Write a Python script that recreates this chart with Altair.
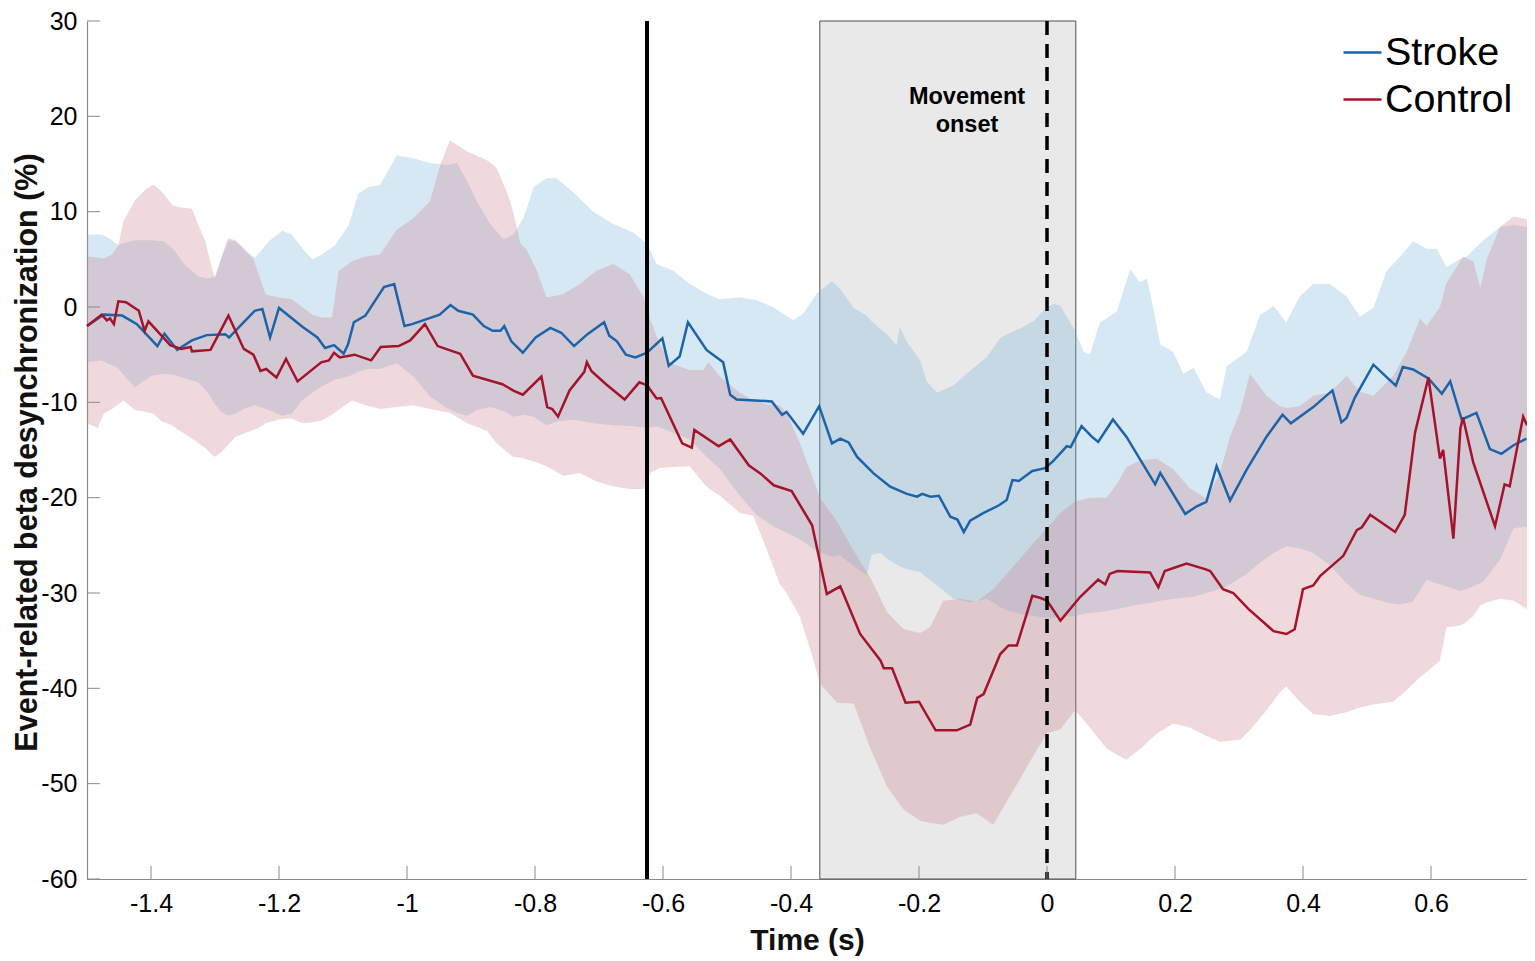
import altair as alt
import pandas as pd

# ---------------- data ----------------
series_names = ["Stroke", "Control"]

stroke_t = [-1.500, -1.474, -1.445, -1.422, -1.390, -1.379, -1.359, -1.336, -1.313, -1.284,
            -1.278, -1.258, -1.238, -1.226, -1.214, -1.200, -1.163, -1.140, -1.128, -1.114,
            -1.099, -1.092, -1.083, -1.065, -1.036, -1.020, -1.004, -0.992, -0.949, -0.932,
            -0.920, -0.897, -0.880, -0.866, -0.854, -0.848, -0.837, -0.819, -0.799, -0.776,
            -0.759, -0.739, -0.718, -0.692, -0.684, -0.672, -0.658, -0.643, -0.625, -0.601,
            -0.591, -0.574, -0.561, -0.532, -0.506, -0.495, -0.485, -0.430, -0.414, -0.407,
            -0.381, -0.356, -0.336, -0.323, -0.310, -0.297, -0.271, -0.245, -0.219, -0.203,
            -0.195, -0.182, -0.169, -0.151, -0.140, -0.130, -0.120, -0.099, -0.075, -0.063,
            -0.054, -0.044, -0.023, -0.003, 0.010, 0.031, 0.037, 0.054, 0.070, 0.080,
            0.103, 0.124, 0.169, 0.177, 0.216, 0.234, 0.249, 0.265, 0.286, 0.312,
            0.343, 0.368, 0.381, 0.416, 0.446, 0.460, 0.468, 0.481, 0.510, 0.536,
            0.545, 0.556, 0.572, 0.596, 0.617, 0.630, 0.648, 0.671, 0.692, 0.710,
            0.729, 0.749]
stroke_v = [-2.0, -0.8, -0.9, -1.8, -4.1, -2.8, -4.5, -3.5, -2.95, -2.85,
            -3.2, -1.8, -0.4, -0.2, -3.2, -0.1, -2.1, -3.2, -4.3, -4.0,
            -4.9, -3.9, -1.6, -0.9, 2.1, 2.4, -2.0, -1.8, -0.8, 0.2,
            -0.4, -0.8, -2.0, -2.5, -2.5, -2.0, -3.6, -4.8, -3.2, -2.2,
            -2.7, -4.1, -2.85, -1.6, -3.0, -3.6, -5.0, -5.3, -4.8, -3.3,
            -6.15, -5.2, -1.6, -4.5, -5.8, -9.2, -9.7, -9.9, -11.3, -11.0,
            -13.3, -10.4, -14.3, -13.8, -14.2, -15.7, -17.45, -18.85, -19.6, -19.9,
            -19.6, -19.9, -19.8, -22.0, -22.3, -23.6, -22.4, -21.6, -20.8, -20.25,
            -18.15, -18.25, -17.2, -16.9, -16.15, -14.6, -14.7, -12.5, -13.6, -14.15,
            -11.8, -13.6, -18.6, -17.4, -21.7, -20.9, -20.45, -16.7, -20.3, -17.05,
            -13.6, -11.3, -12.2, -10.5, -8.75, -12.1, -11.65, -9.5, -6.05, -7.7,
            -8.25, -6.3, -6.55, -7.5, -9.1, -7.8, -11.8, -11.1, -14.9, -15.4,
            -14.5, -13.8]

control_t = [-1.500, -1.477, -1.469, -1.464, -1.458, -1.451, -1.439, -1.419, -1.410, -1.404,
             -1.370, -1.353, -1.338, -1.336, -1.307, -1.279, -1.255, -1.240, -1.229, -1.220,
             -1.204, -1.189, -1.171, -1.134, -1.122, -1.114, -1.105, -1.082, -1.056, -1.041,
             -1.013, -0.995, -0.972, -0.952, -0.917, -0.897, -0.851, -0.833, -0.819, -0.790,
             -0.781, -0.773, -0.764, -0.746, -0.723, -0.719, -0.712, -0.689, -0.660, -0.637,
             -0.625, -0.610, -0.603, -0.570, -0.555, -0.551, -0.513, -0.495, -0.466, -0.448,
             -0.427, -0.399, -0.367, -0.344, -0.323, -0.292, -0.260, -0.255, -0.242, -0.221,
             -0.200, -0.174, -0.141, -0.120, -0.109, -0.099, -0.073, -0.060, -0.047, -0.023,
             -0.011, 0.000, 0.021, 0.052, 0.080, 0.091, 0.098, 0.110, 0.161, 0.174,
             0.184, 0.218, 0.247, 0.255, 0.275, 0.291, 0.315, 0.354, 0.374, 0.387,
             0.400, 0.416, 0.427, 0.463, 0.484, 0.492, 0.505, 0.544, 0.559, 0.575,
             0.596, 0.614, 0.619, 0.635, 0.646, 0.650, 0.666, 0.700, 0.715, 0.723,
             0.744, 0.750]
control_v = [-2.0, -0.8, -1.4, -1.2, -1.8, 0.6, 0.5, -0.4, -2.5, -1.5,
             -4.0, -4.4, -4.2, -4.65, -4.5, -0.9, -4.4, -5.0, -6.7, -6.5,
             -7.4, -5.45, -7.8, -5.8, -5.6, -4.8, -5.3, -5.0, -5.6, -4.2,
             -4.1, -3.5, -1.8, -4.1, -4.9, -7.2, -8.1, -8.8, -9.2, -7.3,
             -10.5, -10.7, -11.5, -8.75, -6.8, -5.8, -6.7, -8.1, -9.7, -7.9,
             -8.2, -9.6, -9.55, -14.3, -14.75, -12.9, -14.6, -13.9, -16.6, -17.45,
             -18.7, -19.3, -22.9, -30.1, -29.3, -34.3, -37.1, -37.9, -37.9, -41.5,
             -41.4, -44.4, -44.4, -43.8, -41.0, -40.6, -36.4, -35.5, -35.5, -30.3,
             -30.5, -30.8, -32.9, -30.4, -28.6, -29.1, -28.0, -27.7, -27.85, -29.4,
             -27.7, -26.9, -27.5, -27.7, -29.6, -30.0, -31.7, -34.0, -34.3, -33.8,
             -29.6, -29.2, -28.2, -26.1, -23.4, -23.1, -21.8, -23.6, -21.8, -13.2,
             -7.4, -15.9, -15.0, -24.3, -12.7, -11.6, -16.3, -23.0, -18.6, -18.8,
             -11.5, -12.4]

stroke_band_t = [-1.500, -1.477, -1.465, -1.452, -1.438, -1.425, -1.410, -1.399, -1.380, -1.364,
                 -1.347, -1.326, -1.310, -1.300, -1.290, -1.279, -1.268, -1.252, -1.237, -1.216,
                 -1.195, -1.180, -1.164, -1.148, -1.133, -1.112, -1.091, -1.076, -1.060, -1.042,
                 -1.016, -0.990, -0.964, -0.938, -0.922, -0.906, -0.891, -0.870, -0.849, -0.834,
                 -0.818, -0.802, -0.782, -0.766, -0.740, -0.709, -0.678, -0.646, -0.625, -0.610,
                 -0.584, -0.558, -0.532, -0.511, -0.480, -0.454, -0.428, -0.397, -0.381, -0.360,
                 -0.336, -0.323, -0.302, -0.282, -0.274, -0.260, -0.250, -0.235, -0.230, -0.219,
                 -0.198, -0.188, -0.172, -0.146, -0.120, -0.094, -0.073, -0.063, -0.042, -0.021,
                 0.000, 0.010, 0.021, 0.031, 0.044, 0.057, 0.067, 0.083, 0.093, 0.109,
                 0.130, 0.145, 0.156, 0.166, 0.177, 0.197, 0.213, 0.229, 0.249, 0.270,
                 0.281, 0.312, 0.333, 0.354, 0.374, 0.395, 0.416, 0.442, 0.468, 0.489,
                 0.510, 0.531, 0.552, 0.572, 0.593, 0.609, 0.624, 0.645, 0.656, 0.682,
                 0.708, 0.729, 0.750]
stroke_band_hi = [7.6, 7.6, 7.2, 6.5, 6.8, 7.0, 7.0, 7.0, 6.9, 6.0,
                  4.4, 3.2, 3.0, 3.2, 5.1, 7.0, 6.9, 5.8, 5.2, 6.9,
                  8.0, 7.6, 6.2, 5.0, 5.5, 6.5, 8.6, 11.9, 12.6, 12.8,
                  15.9, 15.6, 15.1, 14.9, 15.1, 13.2, 11.1, 8.7, 7.1, 7.6,
                  9.3, 12.6, 13.5, 13.5, 12.0, 10.0, 8.7, 7.8, 6.6, 4.5,
                  3.8, 2.4, 1.4, 0.8, 1.0, 0.7, 0.0, -1.4, -0.7, 1.4,
                  2.7, 1.9, -0.1, -0.9, -1.5, -2.3, -2.85, -4.05, -2.1, -3.65,
                  -5.65, -7.8, -9.0, -8.2, -6.7, -5.25, -3.25, -2.85, -2.25, -1.46,
                  0.0, 0.34, 0.14, -1.06, -2.5, -4.65, -5.0, -1.6, -1.2, -0.46,
                  3.97, 2.6, 3.0, -0.07, -3.9, -4.7, -7.0, -6.4, -8.95, -9.7,
                  -6.2, -4.7, -0.85, 0.12, -1.6, 1.1, 2.4, 2.4, 1.1, -1.0,
                  -0.07, 3.8, 5.3, 6.9, 6.1, 6.1, 4.2, 5.0, 5.3, 7.0,
                  8.4, 8.6, 8.4]
stroke_band_lo = [-5.8, -5.6, -6.0, -6.4, -7.5, -8.4, -7.7, -7.2, -7.0, -7.1,
                  -7.5, -7.9, -9.1, -10.2, -11.0, -11.4, -11.2, -10.6, -10.3, -10.8,
                  -11.4, -11.2, -9.8, -9.0, -8.3, -7.6, -7.3, -6.8, -6.5, -6.5,
                  -5.9, -7.3, -9.4, -10.6, -11.1, -11.4, -10.8, -10.5, -10.9, -11.5,
                  -11.3, -11.5, -12.4, -12.0, -11.8, -12.2, -12.4, -12.5, -12.7, -12.5,
                  -13.2, -13.9, -15.7, -17.0, -19.8, -21.8, -23.0, -24.0, -24.6, -25.6,
                  -26.2, -26.1, -27.2, -28.2, -26.0, -25.8, -26.4, -27.0, -27.2, -27.5,
                  -27.8, -28.4, -29.2, -30.6, -31.0, -30.6, -31.5, -31.8, -32.2, -32.4,
                  -32.6, -32.6, -32.5, -32.5, -32.4, -32.2, -32.1, -32.0, -31.9, -31.7,
                  -31.4, -31.2, -31.1, -31.0, -30.8, -30.6, -30.5, -30.4, -30.0, -29.6,
                  -29.3, -28.0, -26.8, -25.8, -25.1, -25.3, -25.8, -27.1, -29.0, -30.2,
                  -30.6, -31.0, -31.2, -30.9, -28.6, -29.0, -29.3, -29.8, -29.6, -28.8,
                  -26.5, -23.2, -23.0]

control_band_t = [-1.500, -1.483, -1.474, -1.461, -1.451, -1.443, -1.425, -1.409, -1.396, -1.383,
                  -1.367, -1.357, -1.336, -1.326, -1.315, -1.305, -1.300, -1.290, -1.280, -1.268,
                  -1.252, -1.240, -1.232, -1.221, -1.200, -1.180, -1.164, -1.148, -1.133, -1.117,
                  -1.107, -1.086, -1.065, -1.042, -1.016, -0.990, -0.964, -0.948, -0.933, -0.906,
                  -0.875, -0.860, -0.844, -0.834, -0.823, -0.813, -0.797, -0.782, -0.756, -0.730,
                  -0.704, -0.678, -0.652, -0.630, -0.620, -0.605, -0.589, -0.558, -0.537, -0.529,
                  -0.511, -0.480, -0.459, -0.438, -0.418, -0.407, -0.386, -0.365, -0.355, -0.328,
                  -0.302, -0.276, -0.250, -0.224, -0.198, -0.183, -0.162, -0.136, -0.110, -0.084,
                  -0.063, -0.042, -0.032, -0.016, 0.000, 0.021, 0.044, 0.067, 0.093, 0.110,
                  0.124, 0.145, 0.171, 0.197, 0.223, 0.249, 0.270, 0.286, 0.302, 0.317,
                  0.343, 0.364, 0.374, 0.395, 0.416, 0.442, 0.468, 0.489, 0.510, 0.541,
                  0.562, 0.583, 0.593, 0.614, 0.624, 0.640, 0.650, 0.666, 0.677, 0.687,
                  0.708, 0.729, 0.750]
control_band_hi = [5.3, 5.2, 5.1, 5.5, 6.5, 9.0, 11.2, 12.3, 12.85, 12.1,
                   10.7, 10.5, 10.3, 8.6, 6.9, 4.1, 3.05, 5.2, 7.2, 7.0,
                   6.0, 5.0, 3.5, 1.3, 1.0, 0.8, 0.0, -0.8, -1.1, -1.1,
                   3.75, 4.8, 5.3, 5.5, 8.1, 9.3, 11.1, 14.9, 17.5, 16.3,
                   15.4, 14.6, 12.1, 10.0, 6.7, 6.0, 3.8, 1.0, 1.35, 2.4,
                   3.8, 4.5, 3.44, 1.0, -1.4, -3.85, -5.9, -6.6, -6.6, -5.8,
                   -7.3, -9.0, -9.8, -10.2, -10.3, -11.1, -14.3, -18.1, -20.0, -22.5,
                   -25.6, -28.4, -32.0, -33.8, -34.2, -33.6, -30.8, -30.6, -30.9, -29.6,
                   -28.0, -26.4, -25.6, -24.4, -23.2, -21.6, -20.4, -20.0, -20.0, -18.5,
                   -16.8, -16.1, -15.9, -17.0, -19.0, -20.1, -17.4, -13.6, -10.9, -7.0,
                   -9.3, -10.4, -10.6, -10.4, -9.3, -9.0, -7.2, -8.9, -9.3, -7.2,
                   -4.7, -1.2, -2.0, 0.0, 2.5, 4.2, 5.3, 4.8, 2.0, 5.0,
                   8.4, 9.5, 9.2]
control_band_lo = [-12.2, -12.7, -11.2, -10.7, -10.2, -9.8, -10.8, -11.0, -11.2, -12.0,
                   -12.4, -12.9, -13.8, -14.3, -14.8, -15.5, -15.7, -15.2, -14.5, -13.6,
                   -13.2, -12.9, -12.7, -12.2, -11.8, -11.7, -12.2, -12.1, -11.9, -11.3,
                   -10.8, -9.8, -10.3, -10.7, -10.5, -10.3, -10.7, -10.9, -11.1, -12.2,
                   -13.0, -14.3, -15.2, -15.7, -15.8, -16.0, -16.3, -16.7, -17.7, -17.4,
                   -18.3, -18.8, -19.1, -19.1, -17.4, -16.9, -16.8, -16.7, -18.5, -19.0,
                   -19.8, -21.6, -21.9, -25.4, -29.0, -30.0, -32.5, -37.0, -39.5, -41.5,
                   -41.6, -46.3, -50.3, -52.7, -53.9, -54.1, -54.3, -53.5, -53.1, -54.3,
                   -51.9, -49.5, -48.3, -46.5, -44.7, -44.3, -42.3, -44.1, -46.3, -47.0,
                   -47.5, -46.4, -44.8, -43.7, -44.1, -45.0, -45.6, -45.5, -45.4, -44.4,
                   -42.3, -40.4, -39.8, -41.4, -42.7, -42.9, -42.5, -42.0, -41.7, -41.4,
                   -40.2, -38.8, -38.3, -37.1, -33.6, -33.5, -33.3, -32.4, -31.3, -31.0,
                   -30.6, -30.8, -31.7]

x_tick_values = [-1.4, -1.2, -1.0, -0.8, -0.6, -0.4, -0.2, 0.0, 0.2, 0.4, 0.6]
y_tick_values = [30, 20, 10, 0, -10, -20, -30, -40, -50, -60]
cue_time = [-0.625]
onset_time = [0.0]
window_start = [-0.355]
window_end = [0.045]
onset_label = ["Movement", "onset"]

# ---------------- styling ----------------
TOP = 13
W, H = 1440, 871 - TOP
FONT = "Liberation Sans"
BLUE = "#1d63a8"
RED = "#a3142c"
BLUE_FILL = "#76b2d7"
RED_FILL = "#cd808e"
AXIS_GRAY = "#8a8a8a"

xs = alt.Scale(domain=[-1.5, 0.75], nice=False, zero=False)
ys = alt.Scale(domain=[-60, 30], nice=False, zero=False)
MINUS_FIX = "replace(datum.label, '\u2212', '-')"

x_axis = alt.Axis(values=x_tick_values, format="~g", labelExpr=MINUS_FIX, ticks=False,
                  grid=False, labelPadding=12, labelFlush=False, labelOverlap=False,
                  title="Time (s)", titleX=W / 2, titleY=61, titleAlign="center",
                  titleBaseline="middle")
y_axis = alt.Axis(values=y_tick_values, format="d", labelExpr=MINUS_FIX, ticks=False,
                  grid=False, labelPadding=10, labelFlush=False, labelOverlap=False,
                  title="Event-related beta desynchronization (%)", titleX=-60,
                  titleY=H / 2 + 2, titleAngle=-90, titleAlign="center",
                  titleBaseline="middle", titleFontSize=30.5)

# ---------------- tables ----------------
stroke_df = pd.DataFrame({"t": stroke_t, "v": stroke_v, "series": series_names[0]})
control_df = pd.DataFrame({"t": control_t, "v": control_v, "series": series_names[1]})
sband_df = pd.DataFrame({"t": stroke_band_t, "hi": stroke_band_hi, "lo": stroke_band_lo})
cband_df = pd.DataFrame({"t": control_band_t, "hi": control_band_hi, "lo": control_band_lo})
win_df = pd.DataFrame({"start": window_start, "end": window_end})
cue_df = pd.DataFrame({"t": cue_time})
onset_df = pd.DataFrame({"t": onset_time})
xt_df = pd.DataFrame({"t": x_tick_values})
yt_df = pd.DataFrame({"v": y_tick_values})
lab_df = pd.DataFrame({"k": [0]})

color = alt.Color("series:N",
                  scale=alt.Scale(domain=series_names, range=[BLUE, RED]),
                  legend=alt.Legend(orient="none", legendX=1255, legendY=17 - (TOP - 7),
                                    title=None, symbolType="stroke", symbolSize=1444,
                                    symbolStrokeWidth=2.5, labelFontSize=39.5, labelFont=FONT,
                                    labelColor="black", labelOffset=2, rowPadding=7,
                                    padding=0, labelLimit=400))

window = alt.Chart(win_df).mark_rect(fill="#e9e9e9", stroke="#505050", strokeWidth=1).encode(
    x=alt.X("start:Q", scale=xs, axis=x_axis), x2="end:Q",
    y=alt.value(0), y2=alt.value(H))

sband = alt.Chart(sband_df).mark_area(color=BLUE_FILL, opacity=0.3).encode(
    x=alt.X("t:Q", scale=xs, axis=x_axis),
    y=alt.Y("hi:Q", scale=ys, axis=y_axis), y2="lo:Q")
cband = alt.Chart(cband_df).mark_area(color=RED_FILL, opacity=0.3).encode(
    x=alt.X("t:Q", scale=xs, axis=x_axis),
    y=alt.Y("hi:Q", scale=ys, axis=y_axis), y2="lo:Q")

sline = alt.Chart(stroke_df).mark_line(strokeWidth=2.5).encode(
    x=alt.X("t:Q", scale=xs, axis=x_axis),
    y=alt.Y("v:Q", scale=ys, axis=y_axis), color=color)
cline = alt.Chart(control_df).mark_line(strokeWidth=2.5).encode(
    x=alt.X("t:Q", scale=xs, axis=x_axis),
    y=alt.Y("v:Q", scale=ys, axis=y_axis), color=color)

cue = alt.Chart(cue_df).mark_rule(color="black", strokeWidth=4).encode(
    x=alt.X("t:Q", scale=xs, axis=x_axis))
onset = alt.Chart(onset_df).mark_rule(color="black", strokeWidth=3.5, strokeDash=[14, 9]).encode(
    x=alt.X("t:Q", scale=xs, axis=x_axis))

yticks = alt.Chart(yt_df).mark_rule(color=AXIS_GRAY, strokeWidth=1).encode(
    y=alt.Y("v:Q", scale=ys, axis=y_axis), x=alt.value(0), x2=alt.value(13))
xticks = alt.Chart(xt_df).mark_rule(color=AXIS_GRAY, strokeWidth=1).encode(
    x=alt.X("t:Q", scale=xs, axis=x_axis), y=alt.value(H), y2=alt.value(H - 13))

label = alt.Chart(lab_df).mark_text(text=onset_label, font=FONT, fontSize=23.5, fontWeight="bold",
                                    lineHeight=28, align="center", baseline="top",
                                    color="black").encode(
    x=alt.value(880), y=alt.value(70 - (TOP - 7)))

chart = alt.layer(window, sband, cband, sline, cline, cue, onset, yticks, xticks, label).properties(
    width=W, height=H,
    autosize=alt.AutoSizeParams(type="none"),
    padding={"left": 79, "top": TOP, "right": 0, "bottom": 82},
).configure_view(stroke=None).configure_axis(
    domainColor=AXIS_GRAY, domainWidth=1.2,
    labelFont=FONT, labelFontSize=25, labelColor="black",
    titleFont=FONT, titleFontSize=30, titleFontWeight="bold", titleColor="#111111",
)

chart.save("out.html", embed_options={"renderer": "svg", "actions": False})
